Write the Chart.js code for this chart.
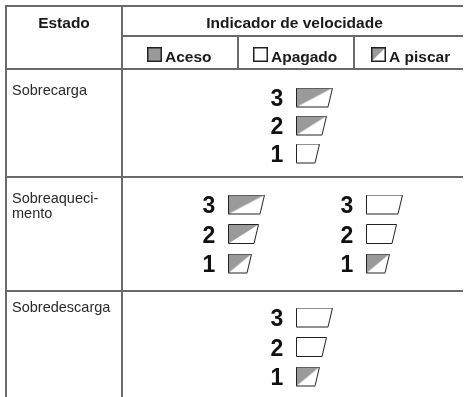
<!DOCTYPE html>
<html>
<head>
<meta charset="utf-8">
<script src="https://cdn.jsdelivr.net/npm/chart.js@4.4.1/dist/chart.umd.min.js"></script>
<style>
html, body { margin: 0; background: #fff; }
#wrap { width: 464px; height: 397px; }
</style>
</head>
<body>
<div id="wrap"><canvas id="c" width="464" height="397"></canvas></div>
<script>
// table text
var headerLabels = ['Estado', 'Indicador de velocidade'];
var legendLabels = ['Aceso', 'Apagado', 'A piscar'];
var stateLabels = [['Sobrecarga'], ['Sobreaqueci-', 'mento'], ['Sobredescarga']];
var levels = [3, 2, 1];

// indicator state per level (3, 2, 1), one list per group shown in the row
var sobrecarga = [['piscar', 'piscar', 'apagado']];
var sobreaquecimento = [['piscar', 'piscar', 'piscar'], ['apagado', 'apagado', 'piscar']];
var sobredescarga = [['apagado', 'apagado', 'piscar']];
var patterns = [sobrecarga, sobreaquecimento, sobredescarga];

// layout (pixels, chart scales run 0..464 and 0..397)
var colX = [6, 122, 238, 354, 463];
var rowY = [6, 36, 69, 177, 291, 397];
var labelBase = [95, 203, 312];
var groupX = [[277], [209, 347], [277]];
var firstY = [98, 205, 318];
var stepY = [28, 29.5, 29.5];
var iconH = 19;
var iconTop = { 3: 36, 2: 30, 1: 23 };
var slant = 4.5;

var GRAY = '#9a9a9a', INK = '#222', RULE = '#6a6a6a';
var FONT = '"Liberation Sans", Arial, sans-serif';

function makeIcon(w, kind) {
    var cv = document.createElement('canvas');
    cv.width = w + 2; cv.height = iconH + 2;
    var g = cv.getContext('2d');
    var l = 0.5, t = 0.5, r = w + 0.5, b = iconH + 0.5;
    g.fillStyle = '#fff';
    g.beginPath(); g.moveTo(l, t); g.lineTo(r, t); g.lineTo(r - slant, b); g.lineTo(l, b); g.closePath();
    g.fill();
    if (kind === 'piscar') {
        g.fillStyle = GRAY;
        g.beginPath(); g.moveTo(l, t); g.lineTo(r, t); g.lineTo(l, b); g.closePath(); g.fill();
    }
    g.strokeStyle = INK; g.lineWidth = 1;
    g.beginPath(); g.moveTo(l, t); g.lineTo(r, t); g.lineTo(r - slant, b); g.lineTo(l, b); g.closePath();
    g.stroke();
    return cv;
}

var icons = { piscar: {}, apagado: {} };
levels.forEach(function (lv) {
    icons.piscar[lv] = makeIcon(iconTop[lv], 'piscar');
    icons.apagado[lv] = makeIcon(iconTop[lv], 'apagado');
});

// build points
var pts = { piscar: [], apagado: [] };
patterns.forEach(function (groups, s) {
    groups.forEach(function (grp, gi) {
        grp.forEach(function (kind, i) {
            var lv = levels[i];
            pts[kind].push({
                x: groupX[s][gi] + 19 + (iconTop[lv] + 2) / 2,
                y: firstY[s] + i * stepY[s],
                level: lv, digitX: groupX[s][gi]
            });
        });
    });
});

function legendBox(ctx, x, y, kind) {
    var s = 15;
    ctx.save();
    ctx.fillStyle = kind === 'aceso' ? GRAY : '#fff';
    ctx.fillRect(x, y, s, s);
    if (kind === 'piscar') {
        ctx.fillStyle = GRAY;
        ctx.beginPath(); ctx.moveTo(x, y); ctx.lineTo(x + s, y); ctx.lineTo(x, y + s); ctx.closePath(); ctx.fill();
    }
    ctx.strokeStyle = INK; ctx.lineWidth = 1.5;
    ctx.strokeRect(x + 0.75, y + 0.75, s - 1.5, s - 1.5);
    ctx.restore();
}

var tablePlugin = {
    id: 'tableDraw',
    beforeDatasetsDraw: function (chart) {
        var ctx = chart.ctx, xs = chart.scales.x, ys = chart.scales.y;
        function X(v) { return xs.getPixelForValue(v); }
        function Y(v) { return ys.getPixelForValue(v); }
        function seg(x1, y1, x2, y2) {
            ctx.beginPath(); ctx.moveTo(X(x1), Y(y1)); ctx.lineTo(X(x2), Y(y2)); ctx.stroke();
        }
        ctx.save();
        ctx.strokeStyle = RULE; ctx.lineWidth = 2;
        seg(colX[0] - 1, rowY[0], colX[4], rowY[0]);
        seg(colX[1], rowY[1], colX[4], rowY[1]);
        seg(colX[0], rowY[2], colX[4], rowY[2]);
        seg(colX[0], rowY[3], colX[4], rowY[3]);
        seg(colX[0], rowY[4], colX[4], rowY[4]);
        seg(colX[0], rowY[0], colX[0], rowY[5]);
        seg(colX[1], rowY[0], colX[1], rowY[5]);
        seg(colX[2], rowY[1], colX[2], rowY[2]);
        seg(colX[3], rowY[1], colX[3], rowY[2]);
        ctx.restore();
    },
    afterDatasetsDraw: function (chart) {
        var ctx = chart.ctx, xs = chart.scales.x, ys = chart.scales.y;
        function X(v) { return xs.getPixelForValue(v); }
        function Y(v) { return ys.getPixelForValue(v); }
        ctx.save();
        ctx.fillStyle = '#1a1a1a';
        ctx.font = 'bold 15.5px ' + FONT;
        ctx.textAlign = 'center';
        ctx.fillText(headerLabels[0], X((colX[0] + colX[1]) / 2), Y(28));
        ctx.fillText(headerLabels[1], X((colX[1] + colX[4]) / 2 + 2), Y(28));
        ctx.textAlign = 'left';
        var kinds = ['aceso', 'apagado', 'piscar'];
        var boxX = [147, 253, 371];
        legendLabels.forEach(function (t, i) {
            legendBox(ctx, X(boxX[i]), Y(47), kinds[i]);
            ctx.fillText(t, X(boxX[i] + 18), Y(62));
        });
        ctx.fillStyle = '#2a2a2a';
        ctx.font = '14.5px ' + FONT;
        stateLabels.forEach(function (lines, s) {
            lines.forEach(function (t, k) {
                ctx.fillText(t, X(12), Y(labelBase[s] + k * 15));
            });
        });
        ctx.fillStyle = '#111';
        ctx.font = 'bold 23px ' + FONT;
        ctx.textAlign = 'center';
        ['piscar', 'apagado'].forEach(function (kind) {
            pts[kind].forEach(function (p) {
                ctx.fillText(String(p.level), X(p.digitX), Y(p.y + 8));
            });
        });
        ctx.restore();
    }
};

function iconStyle(kind) {
    return function (c) { return c.raw ? icons[kind][c.raw.level] : 'rect'; };
}

new Chart(document.getElementById('c').getContext('2d'), {
    type: 'scatter',
    data: {
        datasets: [
            { label: 'A piscar', data: pts.piscar, pointStyle: iconStyle('piscar'), pointRadius: 1 },
            { label: 'Apagado', data: pts.apagado, pointStyle: iconStyle('apagado'), pointRadius: 1 }
        ]
    },
    options: {
        responsive: false,
        animation: false,
        layout: { padding: 0, autoPadding: false },
        plugins: { legend: { display: false }, tooltip: { enabled: false } },
        scales: {
            x: { type: 'linear', min: 0, max: 464, display: false },
            y: { type: 'linear', min: 0, max: 397, reverse: true, display: false }
        }
    },
    plugins: [tablePlugin]
});
</script>
</body>
</html>
